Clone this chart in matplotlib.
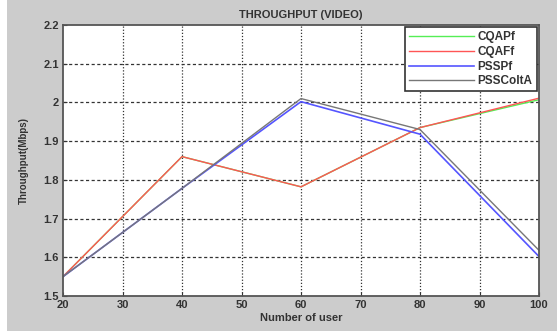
import matplotlib.pyplot as plt
import matplotlib.patches as patches

users = [20, 40, 60, 80, 100]
cqapf = [1.550, 1.860, 1.782, 1.935, 2.007]
cqaff = [1.550, 1.860, 1.782, 1.935, 2.011]
psspf = [1.550, 1.778, 2.002, 1.918, 1.602]
psscolta = [1.550, 1.778, 2.010, 1.930, 1.618]
series_names = ['CQAPf', 'CQAFf', 'PSSPf', 'PSSColtA']
x_ticks = [20, 30, 40, 50, 60, 70, 80, 90, 100]
y_ticks = [1.5, 1.6, 1.7, 1.8, 1.9, 2.0, 2.1, 2.2]
y_tick_labels = ['1.5', '1.6', '1.7', '1.8', '1.9', '2', '2.1', '2.2']

plt.rcParams['font.family'] = ['Liberation Sans', 'DejaVu Sans']
plt.rcParams['font.weight'] = 'bold'

fig = plt.figure(figsize=(5.57, 3.31), dpi=100, facecolor='#cccccc')
# white strip on the left edge of the screenshot
fig.patches.append(patches.Rectangle((0, 0), 7 / 557, 1, transform=fig.transFigure,
                                     facecolor='white', edgecolor='none', zorder=-1))
ax = fig.add_axes([63 / 557, 1 - 296 / 331, 476 / 557, 271 / 331])

ax.plot(users, cqapf, color='#55ee55', lw=1.0, label=series_names[0])
ax.plot(users, cqaff, color='#ff5555', lw=1.0, label=series_names[1])
ax.plot(users, psspf, color='#5555ff', lw=1.2, label=series_names[2])
ax.plot(users, psscolta, color='#777777', lw=1.0, label=series_names[3])

ax.set_xlim(20, 100)
ax.set_ylim(1.5, 2.2)
ax.set_xticks(x_ticks)
ax.set_yticks(y_ticks)
ax.set_yticklabels(y_tick_labels)
ax.tick_params(direction='in', length=3, labelsize=8, colors='#333333', pad=3)

# grid: dashed horizontal, dotted vertical
for y in y_ticks[1:-1]:
    ax.axhline(y, color='#333333', lw=0.9, linestyle=(0, (2.5, 2)), zorder=0)
for x in x_ticks[1:-1]:
    ax.axvline(x, color='#333333', lw=0.9, linestyle=(0, (1, 1.5)), zorder=0)

for s in ax.spines.values():
    s.set_color('#555555')
    s.set_linewidth(1.3)

ax.set_title('THROUGHPUT (VIDEO)', fontsize=8, color='#333333', pad=5, fontweight='bold')
ax.set_xlabel('Number of user', fontsize=8, color='#333333', labelpad=2, fontweight='bold')
ax.set_ylabel('Throughput(Mbps)', fontsize=7, color='#333333', labelpad=10, fontweight='bold')

leg = ax.legend(loc='upper right', fontsize=8.5, frameon=True, fancybox=False,
                handlelength=5.5, borderaxespad=0.2, labelspacing=0.22,
                borderpad=0.35, handletextpad=0.3, framealpha=1)
leg.get_frame().set_edgecolor('#333333')
leg.get_frame().set_linewidth(1.2)
for t in leg.get_texts():
    t.set_color('#333333')

fig.savefig('out.png', dpi=100, facecolor=fig.get_facecolor())
